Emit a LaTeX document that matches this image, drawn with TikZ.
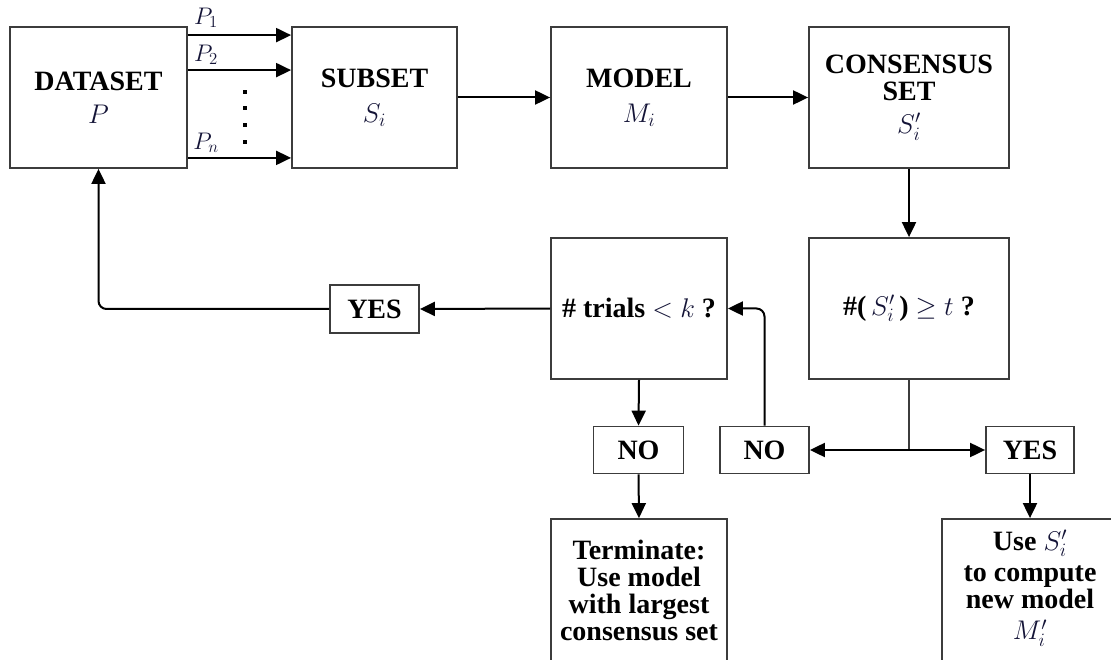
\RequirePackage{fix-cm}
\documentclass[tikz,border=0pt]{standalone}
\usepackage{fontspec}
\setmainfont{Liberation Serif}
\usetikzlibrary{arrows.meta}
\definecolor{mathc}{RGB}{20,20,55}
\definecolor{boxc}{RGB}{60,60,60}
\newcommand{\mc}[1]{{\fontsize{27}{27}\selectfont\textcolor{mathc}{$#1$}}}
\tikzset{
  box/.style={draw=boxc, line width=1.8pt, inner sep=0pt, align=center,
    font=\fontsize{28}{27}\selectfont\bfseries},
  arr/.style={line width=2pt, -{Triangle[length=15pt,width=14pt]}},
  stem/.style={draw=boxc, line width=1.8pt},
  plabel/.style={inner sep=0pt, font=\fontsize{24}{24}\selectfont, text=mathc},
  dotmark/.style={fill=black, rectangle, inner sep=0pt, minimum width=4pt, minimum height=4.5pt},
}
\begin{document}
\begin{tikzpicture}[x=1pt, y=-1pt]
\useasboundingbox (0,0) rectangle (1111,660);
\clip (0,0) rectangle (1111,660);

\node[box, minimum width=177pt, minimum height=141pt] (data) at (98.5,97.5) {DATASET\\[6pt]\mc{P}};
\node[box, minimum width=165pt, minimum height=141pt] (sub) at (374.5,97.5) {SUBSET\\[8pt]\mc{S_i}};
\node[box, minimum width=176pt, minimum height=141pt] (model) at (639,97.5) {MODEL\\[8pt]\mc{M_i}};
\node[box, minimum width=200pt, minimum height=141pt] (cons) at (909,97.5) {CONSENSUS\\SET\\[6pt]\mc{S'_i}};
\node[box, minimum width=176pt, minimum height=141pt] (trials) at (639,308.5) {\# trials \mc{<k} ?};
\node[box, minimum width=200pt, minimum height=141pt] (dec) at (909,308.5) {\#(\,\mc{S'_i}\,) \mc{\geq t} ?};
\node[box, minimum width=89pt, minimum height=48pt] (yes1) at (374.5,309) {YES};
\node[box, minimum width=90pt, minimum height=47pt] (no1) at (638.5,450) {NO};
\node[box, minimum width=89pt, minimum height=47pt] (no2) at (764.5,450) {NO};
\node[box, minimum width=88pt, minimum height=47pt] (yes2) at (1030,450) {YES};
\node[box, minimum width=176pt, minimum height=142pt] (term) at (639,590)
  {Terminate:\\Use model\\with largest\\consensus set};
\node[box, minimum width=176pt, minimum height=142pt] (use) at (1030,590) {};
\node[inner sep=0pt, align=center, font=\fontsize{28}{27}\selectfont\bfseries] (usetxt) at (1030,569)
  {Use \mc{S'_i}\\[4pt]to compute\\new model};
\node[inner sep=0pt] (usem) at (1030,633) {\mc{M'_i}};

% P arrows
\draw[arr] ([yshift=-9pt]data.north east) -- ([yshift=-9pt]sub.north west);
\draw[arr] ([yshift=-44pt]data.north east) -- ([yshift=-44pt]sub.north west);
\draw[arr] ([yshift=11pt]data.south east) -- ([yshift=11pt]sub.south west);
\node[plabel] (p1) at (206,18) {$P_1$};
\node[plabel] (p2) at (206,55) {$P_2$};
\node[plabel] (pn) at (206,143) {$P_n$};
\node[dotmark] (d1) at (245,92) {};
\node[dotmark] (d2) at (245,108) {};
\node[dotmark] (d3) at (245,125) {};
\node[dotmark] (d4) at (245,142) {};

\draw[arr] (sub.east) -- (model.west);
\draw[arr] (model.east) -- (cons.west);
\draw[arr] (cons.south) -- (dec.north);

\coordinate (j) at (dec.south |- no2.east);
\draw[stem] (dec.south) -- (j);
\draw[arr] (j) -- (no2.east);
\draw[arr] (j) -- (yes2.west);
\draw[arr, rounded corners=8pt] (no2.north) |- (trials.east);
\draw[arr] (trials.south) -- (no1.north);
\draw[arr] (no1.south) -- (term.north);
\draw[arr] (yes2.south) -- (use.north);
\draw[arr] (trials.west) -- (yes1.east);
\draw[arr, rounded corners=8pt] (yes1.west) -| (data.south);
\end{tikzpicture}
\end{document}
